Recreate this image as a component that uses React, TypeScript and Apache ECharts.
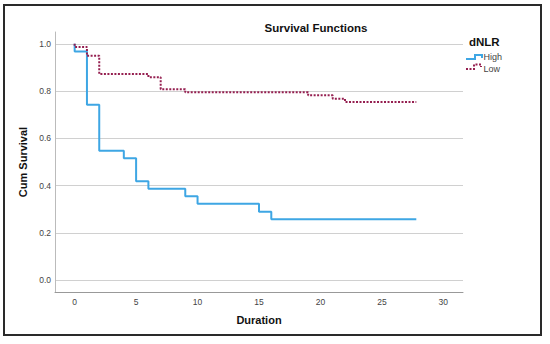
import React, { useEffect, useRef } from "react";
import * as echarts from "echarts";

const chartTitle = "Survival Functions";
const xAxisName = "Duration";
const yAxisName = "Cum Survival";
const legendTitle = "dNLR";
const seriesNames = ["High", "Low"];

const xTicks = [0, 5, 10, 15, 20, 25, 30];
const yTicks = [0, 0.2, 0.4, 0.6, 0.8, 1.0];

// Kaplan-Meier steps (time, survival after the event)
const highTimes = [0, 0, 1, 2, 4, 5, 6, 9, 10, 15, 16, 27.8];
const highSurv = [1, 0.968, 0.742, 0.548, 0.516, 0.419, 0.387, 0.355, 0.323, 0.29, 0.258, 0.258];

const lowTimes = [0, 0, 1, 2, 6, 7, 9, 19, 21, 22, 27.8];
const lowSurv = [1, 0.987, 0.949, 0.872, 0.859, 0.808, 0.795, 0.782, 0.768, 0.754, 0.754];

const FONT = "Liberation Sans, Arial, sans-serif";
const BLUE = "#3ea6e4";
const MAROON = "#951f50";

export default function App() {
  const ref = useRef<HTMLDivElement>(null);

  useEffect(() => {
    document.body.style.margin = "0";
    const chart = echarts.init(ref.current!, null, { renderer: "svg" });
    const highData = highTimes.map((t, i) => [t, highSurv[i]]);
    const lowData = lowTimes.map((t, i) => [t, lowSurv[i]]);

    chart.setOption({
      animation: false,
      backgroundColor: "#ffffff",
      textStyle: { fontFamily: FONT },
      title: {
        text: chartTitle,
        left: 311,
        top: 17,
        textAlign: "center",
        textStyle: { fontFamily: FONT, fontSize: 11.5, fontWeight: "bold", color: "#111" },
      },
      grid: { left: 55, right: 87, top: 32, bottom: 52, containLabel: false },
      xAxis: {
        type: "value",
        min: -1.6,
        max: 31.6,
        name: xAxisName,
        nameLocation: "middle",
        nameGap: 22,
        nameTextStyle: { fontFamily: FONT, fontSize: 11, fontWeight: "bold", color: "#111" },
        axisLine: { show: true, onZero: false, lineStyle: { color: "#999", width: 1 } },
        axisTick: { show: false, customValues: xTicks },
        axisLabel: { customValues: xTicks, fontSize: 8.5, color: "#444", margin: 5, fontFamily: FONT },
        splitLine: { show: false },
      },
      yAxis: {
        type: "value",
        min: -0.05,
        max: 1.05,
        name: yAxisName,
        nameLocation: "middle",
        nameGap: 24,
        nameTextStyle: { fontFamily: FONT, fontSize: 11, fontWeight: "bold", color: "#111" },
        axisLine: { show: true, onZero: false, lineStyle: { color: "#bbb", width: 1 } },
        axisTick: { show: false, customValues: yTicks },
        axisLabel: {
          customValues: yTicks,
          fontSize: 8.5,
          color: "#444",
          margin: 4,
          fontFamily: FONT,
          formatter: (v: number) => v.toFixed(1),
        },
        splitLine: { show: true, lineStyle: { color: "#d0d0d0", width: 1 } },
      },
      series: [
        {
          name: seriesNames[0],
          type: "line",
          step: "end",
          data: highData,
          showSymbol: false,
          lineStyle: { color: BLUE, width: 2 },
          z: 3,
        },
        {
          name: seriesNames[1],
          type: "line",
          step: "end",
          data: lowData,
          showSymbol: false,
          lineStyle: { color: MAROON, width: 2, type: [2, 1.5] },
          z: 4,
        },
      ],
      graphic: [
        {
          type: "rect",
          shape: { x: 4, y: 5, width: 537, height: 330 },
          style: { fill: "none", stroke: "#2a2a2a", lineWidth: 2 },
          silent: true,
        },
        {
          type: "text",
          x: 469,
          y: 42,
          style: {
            text: legendTitle,
            fontFamily: FONT,
            fontSize: 11.5,
            fontWeight: "bold",
            fill: "#111",
            textVerticalAlign: "middle",
          },
        },
        {
          type: "polyline",
          shape: { points: [[466, 59], [475, 59], [475, 55], [482, 55], [482, 58]] },
          style: { stroke: BLUE, lineWidth: 2, fill: "none" },
        },
        {
          type: "text",
          x: 483.5,
          y: 57,
          style: { text: seriesNames[0], fontFamily: FONT, fontSize: 9, fill: "#444", textVerticalAlign: "middle" },
        },
        {
          type: "polyline",
          shape: { points: [[466, 69], [474, 69], [474, 64.5], [481, 64.5], [481, 67]] },
          style: { stroke: MAROON, lineWidth: 2, fill: "none", lineDash: [2, 1.5] },
        },
        {
          type: "text",
          x: 483.5,
          y: 68.5,
          style: { text: seriesNames[1], fontFamily: FONT, fontSize: 9, fill: "#444", textVerticalAlign: "middle" },
        },
      ],
    });

    return () => chart.dispose();
  }, []);

  return (
    <div
      ref={ref}
      style={{ position: "absolute", left: 0, top: 0, width: 550, height: 344 }}
    />
  );
}
